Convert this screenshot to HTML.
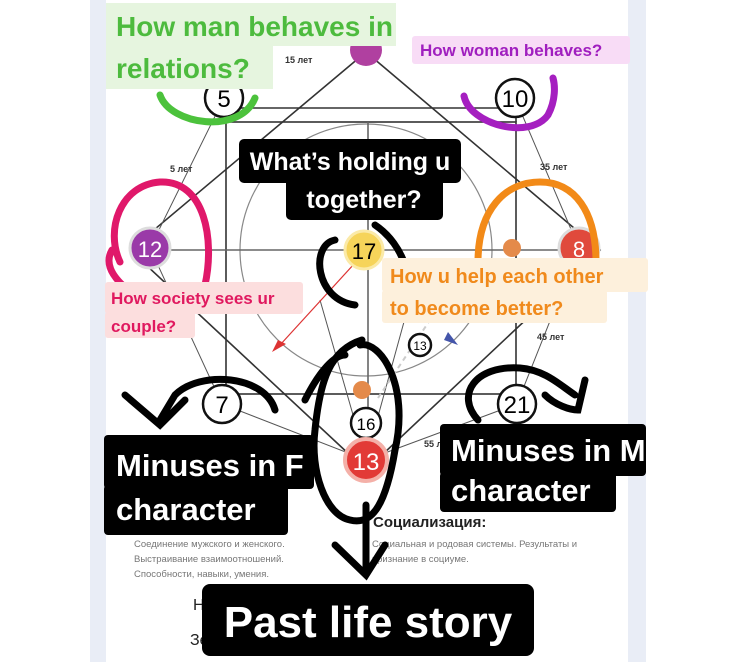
<!DOCTYPE html>
<html><head><meta charset="utf-8"><style>
html,body{margin:0;padding:0;background:#fff;}
svg{display:block;}
text{font-family:"Liberation Sans",sans-serif;font-weight:bold;}
</style></head><body>
<svg width="736" height="662" viewBox="0 0 736 662" xmlns="http://www.w3.org/2000/svg">
<rect x="0" y="0" width="736" height="662" fill="#fff"/>
<rect x="90" y="0" width="556" height="662" fill="#e9edf6"/>
<rect x="106" y="0" width="522" height="662" fill="#fff"/>
<g stroke="#333" stroke-width="1.6" fill="none">
<circle cx="366" cy="250" r="126" stroke="#888" stroke-width="1.2"/>
<rect x="226" y="122" width="290" height="272" stroke="#333"/>
<line x1="226" y1="108" x2="516" y2="108"/>
<line x1="226" y1="108" x2="226" y2="122"/><line x1="516" y1="108" x2="516" y2="122"/>
<polyline points="366,52 600,250 366,470 130,250 366,52"/>
<line x1="150" y1="250" x2="580" y2="250" stroke="#666"/>
<line x1="368" y1="122" x2="368" y2="470" stroke="#666"/>
<polyline points="224,98 150,248 222,404 366,460 517,404 579,248 515,98" stroke="#555" stroke-width="1"/>
<polyline points="320,300 366,460 410,300" stroke="#555" stroke-width="1"/>
</g>
<line x1="280" y1="345" x2="365" y2="252" stroke="#d33" stroke-width="1.2"/>
<polygon points="272,352 286,344 278,340" fill="#d33"/>
<polygon points="458,345 448,332 444,340" fill="#4455aa"/>
<line x1="378" y1="398" x2="430" y2="320" stroke="#ccc" stroke-width="2" stroke-dasharray="5,4"/>
<g stroke="#111" stroke-width="2.5" fill="#fff">
<circle cx="224" cy="98" r="19"/><circle cx="515" cy="98" r="19"/>
<circle cx="222" cy="404" r="19"/><circle cx="517" cy="404" r="19"/>
<circle cx="366" cy="423" r="15"/><circle cx="420" cy="345" r="11"/>
</g>
<circle cx="366" cy="50" r="16" fill="#b040a0"/>
<circle cx="150" cy="248" r="20" fill="#9a3aa8" stroke="#ddd" stroke-width="3"/>
<circle cx="579" cy="248" r="20" fill="#e04a3c" stroke="#ddd" stroke-width="3"/>
<circle cx="512" cy="248" r="9" fill="#e48a4a"/>
<circle cx="364" cy="250" r="19" fill="#f6d45a" stroke="#fbeaa8" stroke-width="3"/>
<circle cx="362" cy="390" r="9" fill="#e48a4a"/>
<circle cx="366" cy="460" r="21" fill="#e23a36" stroke="#f4b0a8" stroke-width="4"/>
<g text-anchor="middle" font-size="24">
<text x="224" y="107" style="font-weight:normal">5</text>
<text x="515" y="107" style="font-weight:normal">10</text>
<text x="222" y="413" style="font-weight:normal">7</text>
<text x="517" y="413" style="font-weight:normal">21</text>
<text x="150" y="257" fill="#fff" font-size="22" style="font-weight:normal">12</text>
<text x="579" y="257" fill="#fff" font-size="22" style="font-weight:normal">8</text>
<text x="364" y="259" font-size="22" style="font-weight:normal">17</text>
<text x="366" y="470" fill="#fff" font-size="24" style="font-weight:normal">13</text>
<text x="366" y="430" font-size="17" style="font-weight:normal">16</text>
<text x="420" y="350" font-size="12" style="font-weight:normal">13</text>
</g>
<g font-size="9" fill="#333">
<text x="285" y="63">15 лет</text><text x="170" y="172">5 лет</text>
<text x="540" y="170">35 лет</text><text x="537" y="340">45 лет</text><text x="424" y="447">55 л</text>
</g>
<text x="373" y="527" font-size="15" fill="#222">Социализация:</text>
<g font-size="9.5" fill="#777">
<text x="134" y="547" style="font-weight:normal">Соединение мужского и женского.</text>
<text x="134" y="562" style="font-weight:normal">Выстраивание взаимоотношений.</text>
<text x="134" y="577" style="font-weight:normal">Способности, навыки, умения.</text>
<text x="372" y="547" style="font-weight:normal">Социальная и родовая системы. Результаты и</text>
<text x="372" y="562" style="font-weight:normal">признание в социуме.</text>
</g>
<text x="193" y="610" font-size="16" fill="#222" style="font-weight:normal">Н</text>
<text x="190" y="645" font-size="16" fill="#222" style="font-weight:normal">Зе</text>
<g fill="none" stroke-linecap="round" stroke-width="7">
<path d="M160,95 C170,125 240,135 255,98" stroke="#4cc23c"/>
<path d="M464,96 C470,125 530,140 548,115 C556,100 555,85 553,78" stroke="#a51fc0"/>
<path d="M128,290 C110,275 105,262 112,250 M120,262 C105,230 120,185 160,182 C205,180 215,240 205,285" stroke="#e0186a"/>
<path d="M478,262 C478,210 505,182 540,182 C575,182 596,212 596,262" stroke="#f28a18"/>
</g>
<g fill="none" stroke="#000" stroke-linecap="round" stroke-width="7">
<path d="M335,240 C310,245 315,300 355,305 M375,225 C390,235 400,250 405,265"/>
<path d="M275,410 C265,375 200,370 175,395 L160,420 M125,395 L160,425 L185,400"/>
<path d="M478,420 C455,395 475,365 520,368 C545,370 560,385 575,395 M545,395 C555,405 570,410 578,410 L585,380"/>
<path d="M360,345 C380,340 410,385 395,450 C385,510 370,525 350,520 C325,515 310,470 315,430 C320,380 330,350 362,340 M305,400 C320,370 335,355 345,355"/>
<path d="M366,505 L366,575 M335,545 L366,575 L385,545"/>
</g>
<rect x="106" y="3" width="290" height="43" fill="#e6f5df"/>
<rect x="106" y="45" width="167" height="44" fill="#e6f5df"/>
<text x="116" y="36" font-size="28" fill="#4dbb3e">How man behaves in</text>
<text x="116" y="78" font-size="28" fill="#4dbb3e">relations?</text>
<rect x="412" y="36" width="218" height="28" rx="3" fill="#f8dcf6"/>
<text x="420" y="56" font-size="17" fill="#a01fbf">How woman behaves?</text>
<rect x="239" y="139" width="222" height="44" rx="5" fill="#000"/>
<rect x="286" y="178" width="157" height="42" rx="5" fill="#000"/>
<text x="350" y="170" font-size="25" fill="#fff" text-anchor="middle">What’s holding u</text>
<text x="364" y="208" font-size="25" fill="#fff" text-anchor="middle">together?</text>
<rect x="105" y="282" width="198" height="32" rx="3" fill="#fcdede"/>
<rect x="105" y="312" width="90" height="26" rx="3" fill="#fcdede"/>
<text x="111" y="304" font-size="17" fill="#e0195f">How society sees ur</text>
<text x="111" y="332" font-size="17" fill="#e0195f">couple?</text>
<rect x="382" y="258" width="266" height="34" rx="3" fill="#fdf0dc"/>
<rect x="382" y="290" width="225" height="33" rx="3" fill="#fdf0dc"/>
<text x="390" y="283" font-size="20" fill="#f08a1c">How u help each other</text>
<text x="390" y="315" font-size="20" fill="#f08a1c">to become better?</text>
<rect x="104" y="435" width="210" height="54" rx="4" fill="#000"/>
<rect x="104" y="485" width="184" height="50" rx="4" fill="#000"/>
<text x="116" y="476" font-size="31" fill="#fff">Minuses in F</text>
<text x="116" y="520" font-size="31" fill="#fff">character</text>
<rect x="440" y="424" width="206" height="52" rx="4" fill="#000"/>
<rect x="440" y="472" width="176" height="40" rx="4" fill="#000"/>
<text x="451" y="461" font-size="31" fill="#fff">Minuses in M</text>
<text x="451" y="501" font-size="31" fill="#fff">character</text>
<rect x="202" y="584" width="332" height="72" rx="8" fill="#000"/>
<text x="368" y="637" font-size="44" fill="#fff" text-anchor="middle">Past life story</text>
</svg>
</body></html>
